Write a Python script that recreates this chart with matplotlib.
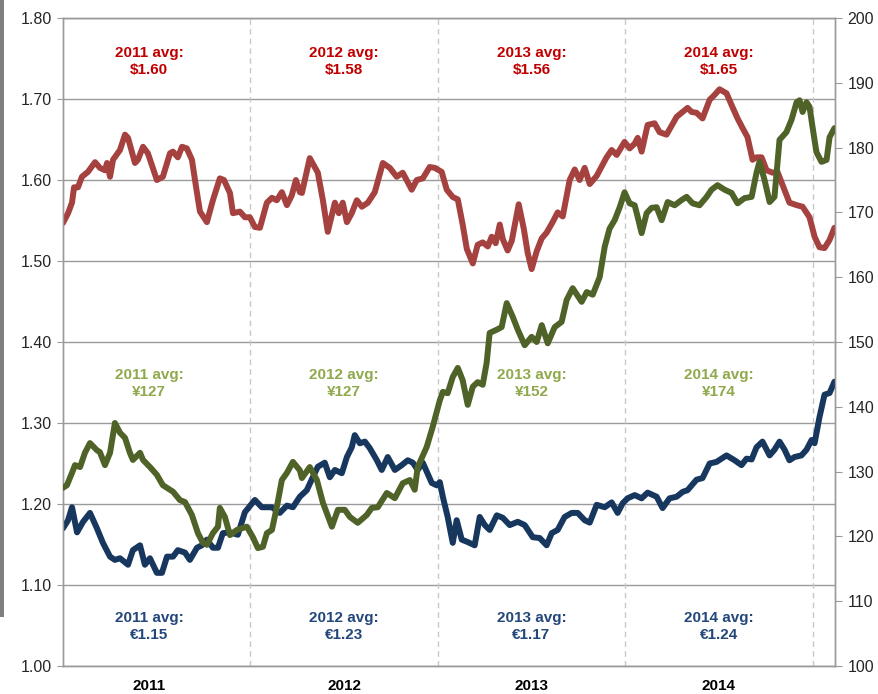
import matplotlib
matplotlib.use("Agg")
import matplotlib.pyplot as plt
from matplotlib.patches import Rectangle

plt.rcParams['font.family'] = ['Liberation Sans', 'DejaVu Sans']

# GBP/USD (left axis)
usd_t = [2011.000, 2011.027, 2011.048, 2011.059, 2011.080, 2011.101, 2011.133, 2011.171, 2011.197, 2011.224,
         2011.235, 2011.251, 2011.267, 2011.304, 2011.331, 2011.347, 2011.384, 2011.400, 2011.427, 2011.453,
         2011.501, 2011.533, 2011.571, 2011.587, 2011.613, 2011.635, 2011.661, 2011.688, 2011.715, 2011.731,
         2011.768, 2011.800, 2011.837, 2011.859, 2011.891, 2011.907, 2011.944, 2011.971, 2011.997, 2012.024,
         2012.051, 2012.088, 2012.115, 2012.141, 2012.168, 2012.195, 2012.221, 2012.243, 2012.264, 2012.275,
         2012.317, 2012.360, 2012.387, 2012.413, 2012.451, 2012.472, 2012.493, 2012.515, 2012.541, 2012.568,
         2012.595, 2012.627, 2012.664, 2012.707, 2012.744, 2012.781, 2012.813, 2012.861, 2012.888, 2012.920,
         2012.957, 2012.984, 2013.021, 2013.048, 2013.080, 2013.107, 2013.133, 2013.155, 2013.187, 2013.213,
         2013.240, 2013.267, 2013.288, 2013.309, 2013.331, 2013.347, 2013.373, 2013.395, 2013.432, 2013.459,
         2013.480, 2013.501, 2013.528, 2013.555, 2013.581, 2013.613, 2013.640, 2013.667, 2013.704, 2013.731,
         2013.757, 2013.784, 2013.811, 2013.848, 2013.901, 2013.928, 2013.955, 2013.997, 2014.024, 2014.051,
         2014.067, 2014.088, 2014.120, 2014.157, 2014.184, 2014.221, 2014.275, 2014.333, 2014.355, 2014.381,
         2014.413, 2014.451, 2014.477, 2014.504, 2014.541, 2014.573, 2014.600, 2014.627, 2014.653, 2014.680,
         2014.701, 2014.728, 2014.755, 2014.787, 2014.813, 2014.840, 2014.877, 2014.915, 2014.947, 2014.984,
         2015.011, 2015.037, 2015.064, 2015.091, 2015.117]
usd = [1.547, 1.559, 1.572, 1.591, 1.591, 1.604, 1.610, 1.622, 1.615, 1.612,
       1.621, 1.604, 1.625, 1.637, 1.656, 1.652, 1.621, 1.625, 1.641, 1.633,
       1.600, 1.604, 1.633, 1.635, 1.628, 1.641, 1.639, 1.625, 1.584, 1.561,
       1.548, 1.575, 1.602, 1.600, 1.584, 1.559, 1.561, 1.554, 1.554, 1.542,
       1.541, 1.572, 1.578, 1.575, 1.585, 1.569, 1.581, 1.600, 1.585, 1.584,
       1.627, 1.609, 1.575, 1.536, 1.572, 1.559, 1.572, 1.548, 1.559, 1.575,
       1.567, 1.572, 1.585, 1.621, 1.615, 1.604, 1.609, 1.588, 1.600, 1.602,
       1.616, 1.615, 1.610, 1.588, 1.579, 1.576, 1.545, 1.515, 1.497, 1.520,
       1.523, 1.518, 1.530, 1.522, 1.545, 1.527, 1.513, 1.525, 1.570, 1.540,
       1.510, 1.490, 1.512, 1.528, 1.535, 1.548, 1.560, 1.555, 1.600, 1.613,
       1.600, 1.615, 1.595, 1.605, 1.628, 1.637, 1.631, 1.647, 1.639, 1.645,
       1.652, 1.635, 1.668, 1.670, 1.659, 1.656, 1.678, 1.689, 1.684, 1.683,
       1.676, 1.699, 1.705, 1.712, 1.707, 1.690, 1.676, 1.664, 1.653, 1.625,
       1.628, 1.628, 1.612, 1.609, 1.610, 1.594, 1.572, 1.569, 1.567, 1.554,
       1.530, 1.517, 1.516, 1.526, 1.541]

# GBP/JPY (right axis)
jpy_t = [2011.000, 2011.021, 2011.048, 2011.064, 2011.091, 2011.117, 2011.144, 2011.181, 2011.197, 2011.224,
         2011.251, 2011.277, 2011.304, 2011.331, 2011.357, 2011.373, 2011.411, 2011.427, 2011.464, 2011.501,
         2011.533, 2011.587, 2011.624, 2011.651, 2011.688, 2011.720, 2011.747, 2011.768, 2011.800, 2011.827,
         2011.837, 2011.864, 2011.891, 2011.928, 2011.981, 2012.013, 2012.040, 2012.067, 2012.088, 2012.115,
         2012.141, 2012.168, 2012.195, 2012.227, 2012.264, 2012.275, 2012.317, 2012.355, 2012.387, 2012.435,
         2012.467, 2012.504, 2012.531, 2012.573, 2012.621, 2012.648, 2012.680, 2012.728, 2012.771, 2012.813,
         2012.851, 2012.877, 2012.893, 2012.941, 2012.973, 2013.011, 2013.027, 2013.053, 2013.080, 2013.107,
         2013.133, 2013.160, 2013.187, 2013.213, 2013.240, 2013.261, 2013.277, 2013.315, 2013.341, 2013.368,
         2013.400, 2013.427, 2013.464, 2013.501, 2013.528, 2013.555, 2013.587, 2013.624, 2013.661, 2013.688,
         2013.720, 2013.768, 2013.795, 2013.827, 2013.864, 2013.891, 2013.917, 2013.944, 2013.971, 2013.997,
         2014.024, 2014.051, 2014.067, 2014.088, 2014.115, 2014.141, 2014.168, 2014.195, 2014.227, 2014.264,
         2014.301, 2014.328, 2014.360, 2014.397, 2014.435, 2014.461, 2014.493, 2014.531, 2014.568, 2014.600,
         2014.637, 2014.675, 2014.701, 2014.717, 2014.744, 2014.771, 2014.797, 2014.824, 2014.861, 2014.888,
         2014.915, 2014.931, 2014.947, 2014.968, 2014.984, 2015.000, 2015.021, 2015.048, 2015.075, 2015.091,
         2015.117]
jpy = [127.5, 127.9, 129.8, 131.0, 130.7, 132.9, 134.4, 133.3, 133.0, 131.0,
       132.9, 137.5, 136.0, 135.2, 132.9, 131.8, 132.9, 131.8, 130.7, 129.5,
       127.9, 126.9, 125.6, 125.3, 123.3, 120.5, 119.0, 118.7, 120.5, 121.5,
       124.4, 123.0, 120.2, 121.0, 121.5, 119.9, 118.2, 118.4, 120.5, 121.0,
       124.5, 128.7, 129.8, 131.5, 130.2, 129.0, 130.7, 128.7, 125.2, 121.5,
       124.1, 124.1, 123.0, 122.1, 123.3, 124.4, 124.5, 126.7, 125.9, 128.2,
       128.7, 127.2, 130.7, 133.8, 136.9, 141.0, 142.3, 142.1, 144.6, 146.0,
       144.1, 140.3, 143.1, 143.8, 143.4, 146.8, 151.4, 151.9, 152.3, 156.0,
       153.9, 151.9, 149.5, 150.8, 150.0, 152.6, 149.8, 152.3, 153.1, 156.5,
       158.3, 156.2, 157.7, 157.3, 160.0, 164.7, 167.5, 168.8, 170.8, 173.1,
       171.4, 171.1, 169.3, 166.8, 169.9, 170.7, 170.8, 168.8, 171.6, 171.1,
       171.9, 172.4, 171.4, 171.1, 172.4, 173.5, 174.2, 173.5, 173.0, 171.4,
       172.2, 172.4, 176.1, 177.8, 175.0, 171.6, 172.4, 181.2, 182.4, 184.3,
       187.0, 187.3, 185.5, 187.0, 186.3, 183.2, 179.3, 177.8, 178.1, 181.6,
       183.0]

# GBP/EUR (left axis)
eur_t = [2011.000, 2011.027, 2011.048, 2011.075, 2011.107, 2011.144, 2011.181, 2011.213, 2011.251, 2011.277,
         2011.304, 2011.347, 2011.373, 2011.411, 2011.437, 2011.464, 2011.501, 2011.528, 2011.555, 2011.587,
         2011.613, 2011.651, 2011.677, 2011.715, 2011.741, 2011.768, 2011.800, 2011.827, 2011.853, 2011.891,
         2011.933, 2011.971, 2012.024, 2012.061, 2012.115, 2012.157, 2012.195, 2012.227, 2012.264, 2012.301,
         2012.333, 2012.360, 2012.397, 2012.424, 2012.451, 2012.488, 2012.515, 2012.541, 2012.557, 2012.584,
         2012.611, 2012.637, 2012.675, 2012.701, 2012.733, 2012.771, 2012.808, 2012.840, 2012.867, 2012.893,
         2012.920, 2012.941, 2012.968, 2012.995, 2013.011, 2013.027, 2013.053, 2013.080, 2013.101, 2013.128,
         2013.160, 2013.197, 2013.224, 2013.251, 2013.277, 2013.315, 2013.347, 2013.384, 2013.427, 2013.464,
         2013.507, 2013.544, 2013.581, 2013.608, 2013.640, 2013.677, 2013.715, 2013.747, 2013.784, 2013.811,
         2013.848, 2013.891, 2013.928, 2013.960, 2013.987, 2014.013, 2014.051, 2014.088, 2014.120, 2014.168,
         2014.200, 2014.237, 2014.275, 2014.307, 2014.333, 2014.381, 2014.413, 2014.451, 2014.488, 2014.541,
         2014.584, 2014.621, 2014.648, 2014.675, 2014.701, 2014.733, 2014.771, 2014.797, 2014.824, 2014.851,
         2014.877, 2014.904, 2014.941, 2014.968, 2014.995, 2015.011, 2015.037, 2015.064, 2015.091, 2015.117]
eur = [1.170, 1.180, 1.196, 1.165, 1.178, 1.189, 1.170, 1.152, 1.135, 1.131,
       1.133, 1.125, 1.143, 1.149, 1.125, 1.133, 1.115, 1.115, 1.135, 1.135,
       1.143, 1.140, 1.131, 1.146, 1.149, 1.156, 1.146, 1.146, 1.164, 1.165,
       1.162, 1.190, 1.205, 1.196, 1.196, 1.189, 1.198, 1.196, 1.209, 1.217,
       1.233, 1.246, 1.251, 1.233, 1.242, 1.238, 1.258, 1.270, 1.285, 1.275,
       1.277, 1.269, 1.254, 1.242, 1.258, 1.242, 1.248, 1.254, 1.251, 1.242,
       1.251, 1.240, 1.226, 1.223, 1.227, 1.209, 1.184, 1.152, 1.180, 1.156,
       1.153, 1.149, 1.184, 1.174, 1.168, 1.186, 1.183, 1.174, 1.178, 1.174,
       1.159, 1.158, 1.149, 1.164, 1.168, 1.184, 1.189, 1.189, 1.180, 1.177,
       1.199, 1.196, 1.202, 1.189, 1.201, 1.207, 1.211, 1.207, 1.214, 1.209,
       1.195, 1.207, 1.209, 1.215, 1.217, 1.230, 1.232, 1.250, 1.252, 1.260,
       1.254, 1.248, 1.256, 1.255, 1.270, 1.277, 1.260, 1.267, 1.277, 1.267,
       1.254, 1.258, 1.260, 1.267, 1.279, 1.275, 1.307, 1.335, 1.337, 1.351]

years = ['2011', '2012', '2013', '2014']
year_pos = [2011.46, 2012.5, 2013.5, 2014.5]
usd_avg = ['$1.60', '$1.58', '$1.56', '$1.65']
jpy_avg = ['¥127', '¥127', '¥152', '¥174']
eur_avg = ['€1.15', '€1.23', '€1.17', '€1.24']

red, green, blue = '#A5423F', '#4F6228', '#17375E'
red_txt, green_txt, blue_txt = '#C00000', '#8FA94C', '#24477A'
grid_c = '#9A9A9A'

fig = plt.figure(figsize=(8.79, 6.94), dpi=100)
ax = fig.add_axes([63 / 879, 1 - 666 / 694, (835 - 63) / 879, (666 - 18) / 694])
ax2 = ax.twinx()

ax.set_xlim(2011.0, 2015.12)
ax.set_ylim(1.0, 1.8)
ax2.set_ylim(100, 200)

ax.set_yticks([1.0 + 0.1 * i for i in range(9)])
ax.set_yticklabels(['%.2f' % (1.0 + 0.1 * i) for i in range(9)])
ax2.set_yticks(range(100, 201, 10))
ax.grid(axis='y', color=grid_c, linewidth=1.0)
ax.set_axisbelow(True)

for b in [2012, 2013, 2014, 2015]:
    ax.axvline(b, color='#C8C8C8', linewidth=1.0, linestyle=(0, (4, 3)), zorder=1)

ax.plot(usd_t, usd, color=red, linewidth=4.3, solid_capstyle='round', solid_joinstyle='round', zorder=3)
ax.plot(eur_t, eur, color=blue, linewidth=4.3, solid_capstyle='round', solid_joinstyle='round', zorder=3)
ax2.plot(jpy_t, jpy, color=green, linewidth=4.3, solid_capstyle='round', solid_joinstyle='round', zorder=3)

for a in (ax, ax2):
    for s in a.spines.values():
        s.set_color(grid_c)
        s.set_linewidth(1.0)

ax.tick_params(axis='y', direction='out', length=4, color=grid_c, labelsize=11.5, labelcolor='#262626', pad=4)
ax2.tick_params(axis='y', direction='out', length=5, color=grid_c, labelsize=11.5, labelcolor='#262626', pad=4)

ax.set_xticks(year_pos)
ax.set_xticklabels(years, fontweight='bold', fontsize=11)
ax.tick_params(axis='x', length=0, pad=9)

for i in range(4):
    ax.text(year_pos[i], 1.746, '%s avg:\n%s' % (years[i], usd_avg[i]), color=red_txt,
            fontsize=11, fontweight='bold', ha='center', va='center', linespacing=1.3, zorder=5)
    ax.text(year_pos[i], 1.349, '%s avg:\n%s' % (years[i], jpy_avg[i]), color=green_txt,
            fontsize=11, fontweight='bold', ha='center', va='center', linespacing=1.3, zorder=5)
    ax.text(year_pos[i], 1.049, '%s avg:\n%s' % (years[i], eur_avg[i]), color=blue_txt,
            fontsize=11, fontweight='bold', ha='center', va='center', linespacing=1.3, zorder=5)

# grey strip at the left edge of the screenshot
fig.patches.append(Rectangle((0, 1 - 617 / 694), 4 / 879, 617 / 694, transform=fig.transFigure,
                             facecolor='#7F7F7F', edgecolor='none'))

fig.savefig('out.png', dpi=100)
